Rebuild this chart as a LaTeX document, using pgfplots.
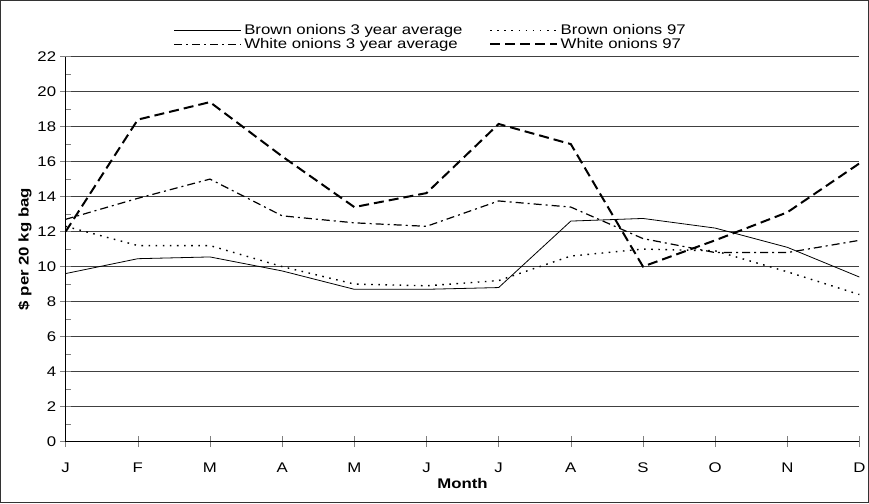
\documentclass[border=0pt]{standalone}
\usepackage{pgfplots}
\pgfplotsset{compat=1.18}
\usepackage{fontspec}
\setmainfont{Liberation Sans}[FakeStretch=1.2]
\begin{document}
\begin{tikzpicture}
\begin{axis}[
  scale only axis, width=792bp, height=384bp,
  xmin=0, xmax=11, ymin=0, ymax=22,
  xtick={0,...,11},
  xticklabels={J,F,M,A,M,J,J,A,S,O,N,D},
  ytick={0,2,...,22},
  minor ytick={1,3,...,21},
  axis x line*=bottom, axis y line*=left,
  x axis line style={-, line width=0.8bp},
  y axis line style={-, line width=0.8bp},
  major tick length=11bp, minor tick length=5bp,
  xtick style={line width=0.6bp, yshift=-5.5bp},
  ytick style={line width=0.6bp, xshift=-5.5bp},
  xtick align=inside, ytick align=inside,
  minor tick style={line width=0.6bp, xshift=5.5bp},
  ymajorgrids,
  major grid style={black!75, line width=0.9bp},
  tick label style={font=\fontsize{14}{15}\selectfont},
  /pgf/number format/assume math mode=true,
  xticklabel style={yshift=-18bp},
  yticklabel style={xshift=-6bp},
  xlabel={\bfseries Month},
  ylabel={\bfseries \$ per 20 kg bag},
  label style={font=\fontsize{14}{15}\selectfont},
  xlabel style={yshift=1bp},
  ylabel style={yshift=-1bp},
  legend style={at={(0.46,1.005)}, anchor=south, draw=none, fill=none,
    font=\fontsize{14}{14}\selectfont, legend columns=2,
    /tikz/every even column/.append style={column sep=24bp},
    row sep=-3bp, nodes={inner sep=2.5bp}},
  legend cell align=left,
  legend image code/.code={\draw[#1] (0bp,0bp) -- (67bp,0bp);},
]
\addplot[black, line width=0.8bp] coordinates {
(0,9.6)(1,10.45)(2,10.55)(3,9.75)(4,8.7)(5,8.7)(6,8.8)(7,12.6)(8,12.75)(9,12.2)(10,11.1)(11,9.4)};
\addlegendentry{Brown onions 3 year average}
\addplot[black, line width=1.4bp, dash pattern=on 1.6bp off 5.5bp] coordinates {
(0,12.3)(1,11.2)(2,11.2)(3,10.0)(4,9.0)(5,8.9)(6,9.2)(7,10.6)(8,11.0)(9,10.9)(10,9.7)(11,8.4)};
\addlegendentry{Brown onions 97}
\addplot[black, line width=1.2bp, dash pattern=on 8bp off 4bp on 2bp off 4bp] coordinates {
(0,12.7)(1,13.9)(2,15.0)(3,12.9)(4,12.5)(5,12.3)(6,13.75)(7,13.4)(8,11.6)(9,10.8)(10,10.8)(11,11.5)};
\addlegendentry{White onions 3 year average}
\addplot[black, line width=2bp, dash pattern=on 10bp off 5bp] coordinates {
(0,12.0)(1,18.4)(2,19.4)(3,16.3)(4,13.4)(5,14.2)(6,18.15)(7,17.0)(8,10.0)(9,11.5)(10,13.1)(11,15.9)};
\addlegendentry{White onions 97}
\end{axis}
\draw[line width=1bp, black!80] (-65bp,-61bp) rectangle (801bp,440bp);
\end{tikzpicture}
\end{document}
